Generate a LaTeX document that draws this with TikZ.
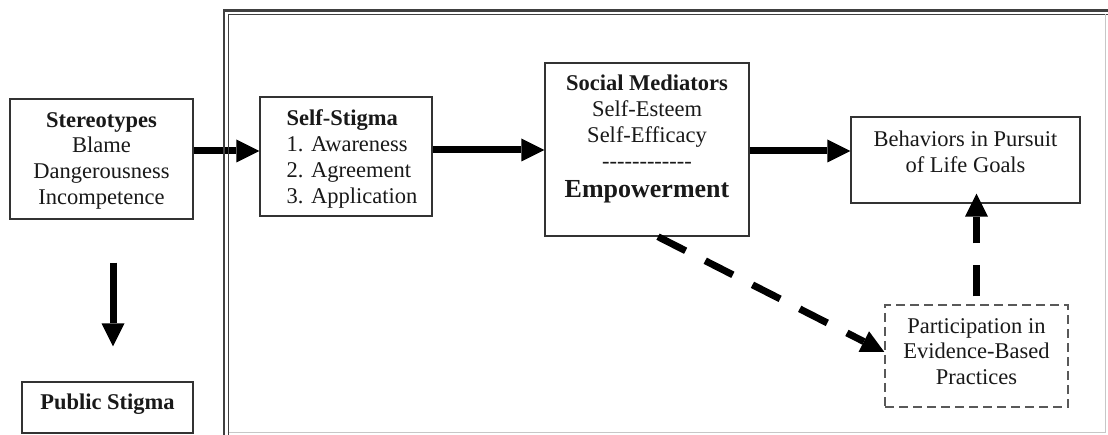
\documentclass[tikz,border=0pt]{standalone}
\usepackage{fontspec}
\setmainfont{Liberation Serif}
\usetikzlibrary{arrows.meta,calc}
\begin{document}
\begin{tikzpicture}[x=1pt,y=-1pt,
  box/.style={draw=black!80, line width=1.4pt, inner sep=0pt},
  txt/.style={align=center, inner sep=0pt, text=black!90, font=\fontsize{22.5}{25.7}\selectfont},
  arr/.style={line width=7pt, -{Triangle[length=23pt,width=23pt,line width=0pt]}},
  darr/.style={arr, dash pattern=on 31pt off 22pt}]
\useasboundingbox (0,0) rectangle (1108,435);
\fill[white] (0,0) rectangle (1108,435);
% boxes
\node[box, minimum width=183pt, minimum height=120pt] (stereo) at (101.5,159) {};
\node[txt] (stereotext) at (101.5,160.5) {\textbf{Stereotypes}\\Blame\\Dangerousness\\Incompetence};
\node[box, minimum width=171pt, minimum height=51pt] (pub) at (107.5,407.5) {};
\node[txt] (pubtext) at (107.5,404) {\textbf{Public Stigma}};
\node[box, minimum width=172pt, minimum height=119pt] (selfst) at (346,156.5) {};
\node[txt, align=left] (selfsttext) at (352,159) {\textbf{Self-Stigma}\\1. Awareness\\2. Agreement\\3. Application};
\node[box, minimum width=204pt, minimum height=173pt] (social) at (647,149.5) {};
\node[txt] (socialtext) at (647,139) {\textbf{Social Mediators}\\Self-Esteem\\Self-Efficacy\\[1pt]-{}-{}-{}-{}-{}-{}-{}-{}-{}-{}-{}-\\[3pt]{\fontsize{26}{28}\selectfont\bfseries Empowerment}};
\node[box, minimum width=229pt, minimum height=86pt] (behav) at (965.5,160) {};
\node[txt] (behavtext) at (965.5,152) {Behaviors in Pursuit\\of Life Goals};
\node[box, draw=black!65, line width=1.3pt, dash pattern=on 9pt off 5pt, minimum width=183pt, minimum height=102pt] (partic) at (976.5,356) {};
\node[txt] (partictext) at (976.5,351.5) {Participation in\\Evidence-Based\\Practices};
% arrows
\coordinate (r1) at (0,151);
\coordinate (r2) at (0,150);
\draw[arr] (stereo.east |- r1) -- (selfst.west |- r1);
\draw[arr] (selfst.east |- r2) -- (social.west |- r2);
\draw[arr] (social.east |- r1) -- (behav.west |- r1);
\draw[arr] ($(stereo.south)+(11.5,43)$) -- ($(pub.north)+(5.5,-35)$);
\draw[darr] ($(social.south)+(11,0)$) -- ($(partic.west)+(0,-4)$);
\coordinate (uptip) at ($(partic.north |- behav.south)+(0,-10)$);
\draw[darr, dash phase=45pt] (partic.north) -- (uptip);
% double frame
\draw[black!75, line width=2.2pt] (224,440) -- (224,10.5) -- (1115,10.5);
\draw[black!75, line width=1.6pt] (228.5,440) -- (228.5,14.5) -- (1115,14.5);
\draw[black!22, line width=0.8pt] (1105,14.5) -- (1105,432) -- (228.5,432);
\end{tikzpicture}
\end{document}
